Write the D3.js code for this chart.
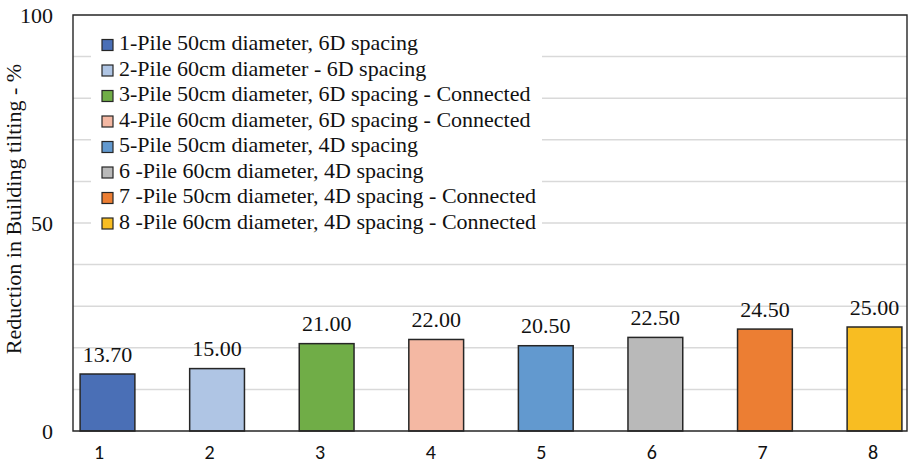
<!DOCTYPE html>
<html>
<head>
<meta charset="utf-8">
<script src="https://cdn.jsdelivr.net/npm/d3@7"></script>
<style>
  html, body { margin: 0; padding: 0; background: #fff; }
  svg { display: block; }
  .serif { font-family: "Liberation Serif"; font-size: 22px; fill: #111; }
  .sans { font-family: Carlito; font-size: 20px; fill: #111; }
</style>
</head>
<body>
<svg id="chart" width="909" height="465"></svg>
<script>
// Pile configurations and their reduction in building tilting (%)
const categories = ["1", "2", "3", "4", "5", "6", "7", "8"];
const values = [13.70, 15.00, 21.00, 22.00, 20.50, 22.50, 24.50, 25.00];
const legendLabels = [
  "1-Pile 50cm diameter, 6D spacing",
  "2-Pile 60cm diameter - 6D spacing",
  "3-Pile 50cm diameter, 6D spacing - Connected",
  "4-Pile 60cm diameter, 6D spacing - Connected",
  "5-Pile 50cm diameter, 4D spacing",
  "6 -Pile 60cm diameter, 4D spacing",
  "7 -Pile 50cm diameter, 4D spacing - Connected",
  "8 -Pile 60cm diameter, 4D spacing - Connected"
];
const colors = ["#4a6fb6", "#afc5e4", "#70ad47", "#f4b8a3", "#6299cf", "#b9b9b9", "#ec7e33", "#f8bd22"];
const yTicks = [0, 50, 100];
const yGrid = d3.range(10, 100, 10);
const yTitle = "Reduction in Building tilting - %";

const svg = d3.select("#chart");
const plot = { left: 73, right: 907, top: 15, bottom: 431 };

const y = d3.scaleLinear().domain([0, 100]).range([plot.bottom, plot.top]);
// bar positions
const x = d3.scaleBand()
  .domain(categories)
  .range([52.7, 929.3])
  .paddingInner(0.5)
  .paddingOuter(0.25);
// category label positions (slightly wider spread than the bars)
const xLabel = d3.scaleBand()
  .domain(categories)
  .range([43.7, 928.3]);

// horizontal gridlines
svg.append("g")
  .selectAll("line")
  .data(yGrid)
  .join("line")
  .attr("x1", plot.left).attr("x2", plot.right)
  .attr("y1", d => y(d)).attr("y2", d => y(d))
  .attr("stroke", "#d9d9d9")
  .attr("stroke-width", 1.5);

// y axis labels
const yAxis = svg.append("g")
  .attr("transform", `translate(${plot.left},0)`)
  .call(d3.axisLeft(y).tickValues(yTicks).tickSize(0).tickPadding(20));
yAxis.select(".domain").remove();
yAxis.attr("font-family", null).attr("font-size", null);
yAxis.selectAll("text")
  .attr("class", "serif")
  .attr("dy", "0.32em")
  .attr("fill", null);

// y axis title
svg.append("text")
  .attr("class", "serif")
  .attr("transform", `translate(21,209) rotate(-90)`)
  .attr("text-anchor", "middle")
  .text(yTitle);

// bars
svg.append("g")
  .selectAll("rect")
  .data(values)
  .join("rect")
  .attr("x", (d, i) => x(categories[i]))
  .attr("width", x.bandwidth())
  .attr("y", d => y(d))
  .attr("height", d => y(0) - y(d))
  .attr("fill", (d, i) => colors[i])
  .attr("stroke", "#262626")
  .attr("stroke-width", 1.5);

// value labels
svg.append("g")
  .selectAll("text")
  .data(values)
  .join("text")
  .attr("class", "serif")
  .attr("x", (d, i) => x(categories[i]) + x.bandwidth() / 2)
  .attr("y", d => y(d) - 12.5)
  .attr("text-anchor", "middle")
  .text(d => d.toFixed(2));

// x axis labels
const xAxis = svg.append("g")
  .attr("transform", `translate(0,${plot.bottom})`)
  .call(d3.axisBottom(xLabel).tickSize(0).tickPadding(0));
xAxis.select(".domain").remove();
xAxis.attr("font-family", null).attr("font-size", null);
xAxis.selectAll("text")
  .attr("class", "sans")
  .attr("y", 28)
  .attr("dy", 0)
  .attr("fill", null);

// plot frame
svg.append("path")
  .attr("d", `M${plot.left},${plot.bottom}V${plot.top}H${plot.right}V${plot.bottom}Z`)
  .attr("fill", "none")
  .attr("stroke", "#262626")
  .attr("stroke-width", 1.4);

// legend
const legend = svg.append("g");
legend.append("rect")
  .attr("x", 91).attr("y", 29)
  .attr("width", 451).attr("height", 207)
  .attr("fill", "#fff");
const rowH = 25.5;
const items = legend.selectAll("g.item")
  .data(legendLabels)
  .join("g")
  .attr("class", "item")
  .attr("transform", (d, i) => `translate(102,${50 + i * rowH})`);
items.append("rect")
  .attr("x", 0).attr("y", -10.5)
  .attr("width", 11).attr("height", 11)
  .attr("fill", (d, i) => colors[i])
  .attr("stroke", "#262626")
  .attr("stroke-width", 1.2);
items.append("text")
  .attr("class", "serif")
  .attr("x", 17).attr("y", 0)
  .text(d => d);
</script>
</body>
</html>
